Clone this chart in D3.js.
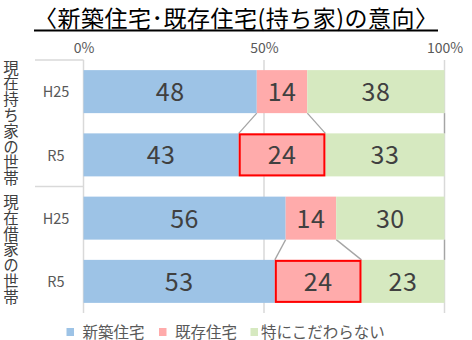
<!DOCTYPE html>
<html>
<head>
<meta charset="utf-8">
<script src="https://cdn.jsdelivr.net/npm/d3@7"></script>
<style>
  html, body { margin: 0; padding: 0; background: #fff; }
  svg { display: block; }
  text { font-family: "Noto Sans CJK JP", "Noto Sans", sans-serif; }
</style>
</head>
<body>
<svg id="chart" width="472" height="340"></svg>
<script>
// Housing preference survey: share of households preferring new / existing homes
const title = "〈新築住宅･既存住宅(持ち家)の意向〉";
const groups = ["現在持ち家の世帯", "現在借家の世帯"];
const categories = ["H25", "R5", "H25", "R5"];
const seriesNames = ["新築住宅", "既存住宅", "特にこだわらない"];
const newBuild = [48, 43, 56, 53];
const existing = [14, 24, 14, 24];
const noPreference = [38, 33, 30, 23];
const highlighted = [false, true, false, true];
const tickValues = [0, 50, 100];
const tickLabels = ["0%", "50%", "100%"];
const colors = ["#9DC3E6", "#FFABAB", "#D6E9C0"];

const svg = d3.select("#chart");
const margin = { left: 83.5, right: 27.5, top: 60, bottom: 27 };
const W = 472, H = 340;

const rows = categories.map((c, i) => ({
  id: i, cat: c,
  s0: newBuild[i], s1: existing[i], s2: noPreference[i]
}));
const stack = d3.stack().keys(["s0", "s1", "s2"]);
const stacked = stack(rows);

const x = d3.scaleLinear().domain([0, 100]).range([margin.left, W - margin.right]);
const y = d3.scaleBand().domain(rows.map(r => r.id))
  .range([margin.top, H - margin.bottom])
  .paddingInner(0.32).paddingOuter(0.16);
const bw = y.bandwidth();

// title with underline
const t = svg.append("text")
  .attr("x", W / 2).attr("y", 26.5)
  .attr("text-anchor", "middle")
  .attr("font-size", 23).attr("fill", "#000")
  .attr("textLength", 404).attr("lengthAdjust", "spacing")
  .text(title);
const tb = t.node().getBBox();
svg.append("line")
  .attr("x1", tb.x).attr("x2", tb.x + tb.width)
  .attr("y1", 30.5).attr("y2", 30.5)
  .attr("stroke", "#000").attr("stroke-width", 1.8);

// value axis on top
const xAxis = d3.axisTop(x).tickValues(tickValues)
  .tickFormat((d, i) => tickLabels[i]).tickSize(0).tickPadding(0);
const gx = svg.append("g").attr("transform", `translate(0,53)`).call(xAxis);
gx.select(".domain").remove();
gx.selectAll("text")
  .attr("font-size", 14).attr("fill", "#595959")
  .attr("font-family", "\"Noto Sans CJK JP\", sans-serif")
  .attr("dy", 0);

// gridlines
const [y0, y1] = y.range();
svg.append("g").selectAll("line")
  .data(tickValues.filter(v => v > 0)).join("line")
  .attr("x1", d => x(d)).attr("x2", d => x(d))
  .attr("y1", y0).attr("y2", y1)
  .attr("stroke", "#D9D9D9").attr("stroke-width", 1.5);

// category axis line and group separators
svg.append("line")
  .attr("x1", x(0)).attr("x2", x(0))
  .attr("y1", y0).attr("y2", y1)
  .attr("stroke", "#D9D9D9").attr("stroke-width", 1.5);
const groupEdges = [0, 2].map(i => y(i) - y.step() * y.paddingInner() / 2);
groupEdges[0] = y0;
svg.append("g").selectAll("line")
  .data(groupEdges).join("line")
  .attr("x1", 35).attr("x2", x(0))
  .attr("y1", d => d).attr("y2", d => d)
  .attr("stroke", "#D9D9D9").attr("stroke-width", 1.5);

// series lines between the two years in each group
const seriesLines = [];
[0, 2].forEach(top => {
  stacked.forEach(s => {
    seriesLines.push({ xa: s[top][1], ya: y(top) + bw, xb: s[top + 1][1], yb: y(top + 1) });
  });
});
svg.append("g").selectAll("line")
  .data(seriesLines).join("line")
  .attr("x1", d => x(d.xa)).attr("y1", d => d.ya)
  .attr("x2", d => x(d.xb)).attr("y2", d => d.yb)
  .attr("stroke", "#A5A5A5").attr("stroke-width", 1.3);

// bars
const layer = svg.append("g").selectAll("g")
  .data(stacked).join("g")
  .attr("fill", (d, i) => colors[i]);
layer.selectAll("rect")
  .data(d => d)
  .join("rect")
  .attr("x", d => x(d[0]))
  .attr("y", d => y(d.data.id))
  .attr("width", d => x(d[1]) - x(d[0]))
  .attr("height", bw);

// red outline on the existing-home segment for R5
svg.append("g").selectAll("rect")
  .data(stacked[1].filter((p, i) => highlighted[i])).join("rect")
  .attr("x", d => x(d[0]) + 1)
  .attr("y", d => y(d.data.id) + 1)
  .attr("width", d => x(d[1]) - x(d[0]) - 2)
  .attr("height", bw - 2)
  .attr("fill", "none").attr("stroke", "#FF0000").attr("stroke-width", 2);

// value labels
svg.append("g").selectAll("g")
  .data(stacked).join("g")
  .selectAll("text")
  .data(d => d).join("text")
  .attr("x", d => (x(d[0]) + x(d[1])) / 2)
  .attr("y", d => y(d.data.id) + bw / 2 + 9.5)
  .attr("text-anchor", "middle")
  .attr("font-size", 25).attr("fill", "#404040")
  .attr("letter-spacing", 0.5)
  .text(d => d[1] - d[0]);

// category labels
svg.append("g").selectAll("text")
  .data(rows).join("text")
  .attr("x", 56).attr("y", d => y(d.id) + bw / 2 + 5.8)
  .attr("text-anchor", "middle")
  .attr("font-size", 14.5).attr("fill", "#595959")
  .text(d => d.cat);

// vertical group labels
groups.forEach((g, gi) => {
  const mid = (y(gi * 2) + y(gi * 2 + 1) + bw) / 2;
  svg.append("text")
    .attr("x", 11).attr("y", mid)
    .attr("text-anchor", "middle")
    .style("writing-mode", "vertical-rl")
    .attr("letter-spacing", 0.3)
    .attr("font-size", 15.5).attr("fill", "#404040")
    .text(g);
});

// legend
const legendX = [66.5, 159, 250.5];
const legendTextX = [82.5, 175, 261];
const lg = svg.append("g").selectAll("g")
  .data(seriesNames).join("g");
lg.append("rect")
  .attr("x", (d, i) => legendX[i]).attr("y", 328)
  .attr("width", 7.5).attr("height", 8)
  .attr("fill", (d, i) => colors[i]);
lg.append("text")
  .attr("x", (d, i) => legendTextX[i]).attr("y", 337.5)
  .attr("font-size", 15.5).attr("fill", "#595959")
  .text(d => d);
</script>
</body>
</html>
